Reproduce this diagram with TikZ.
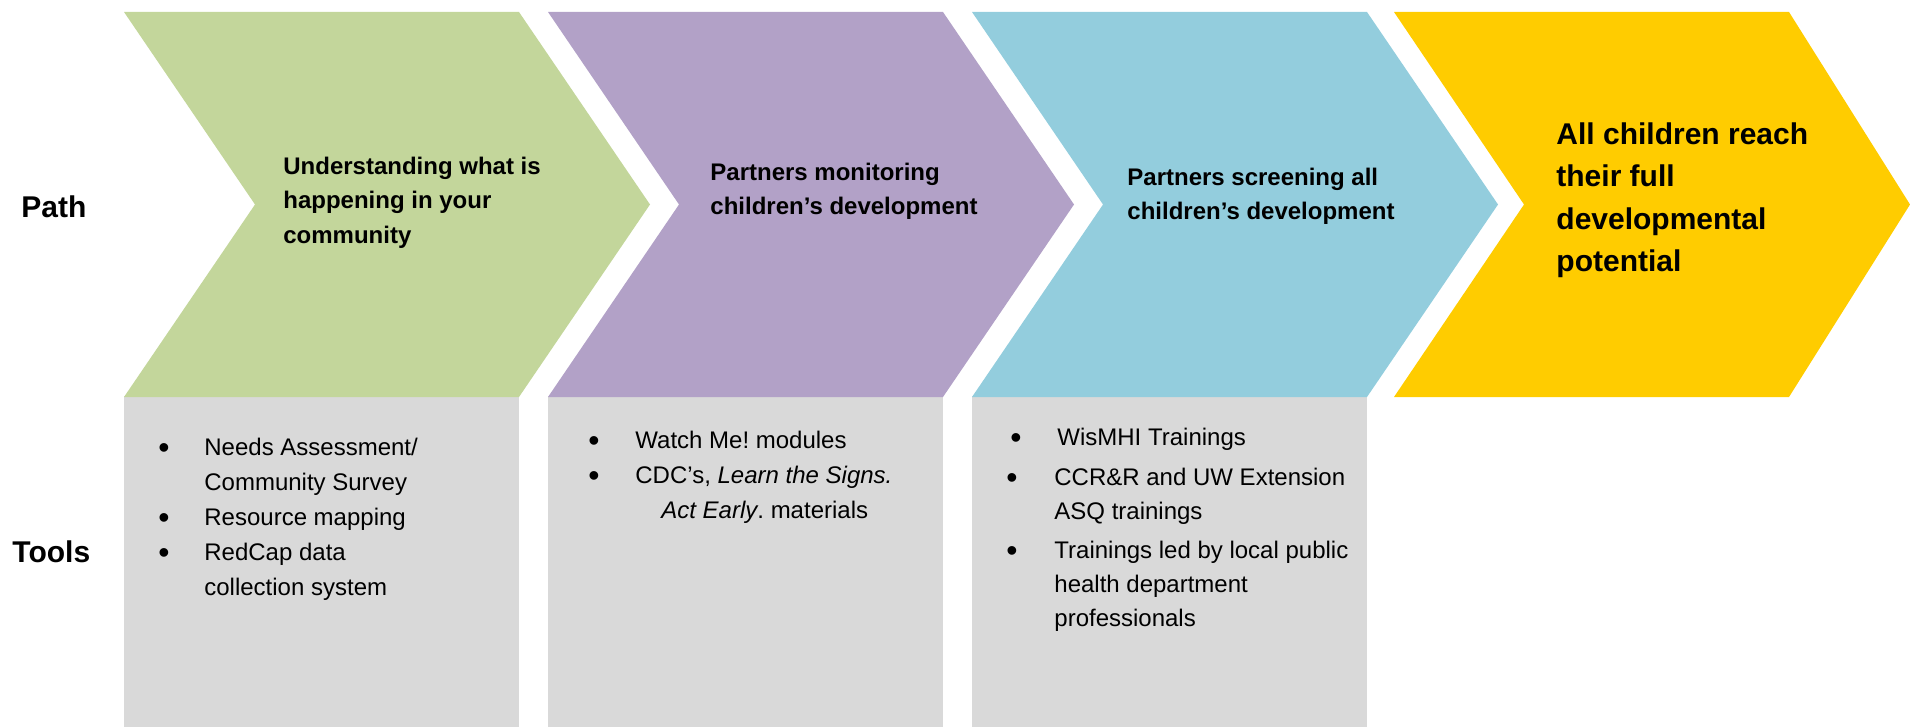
\documentclass[tikz,border=0pt]{standalone}
\usepackage{fontspec}
\setmainfont{Liberation Sans}
\frenchspacing
\definecolor{cgreen}{HTML}{C3D69B}
\definecolor{cpurple}{HTML}{B2A1C7}
\definecolor{ccyan}{HTML}{93CDDD}
\definecolor{cyellow}{HTML}{FFCC00}
\definecolor{boxgray}{HTML}{D9D9D9}
\begin{document}
\begin{tikzpicture}[x=0.5pt,y=-0.5pt,
  chev/.style={fill=#1, draw=none},
  toolbox/.style={fill=boxgray, draw=none},
  rowlabel/.style={anchor=base west, font=\fontsize{15}{18}\selectfont\bfseries, inner sep=0},
  pathtxt/.style={anchor=base west, font=\fontsize{12}{14}\selectfont\bfseries, inner sep=0},
  goaltxt/.style={anchor=base west, font=\fontsize{15}{18}\selectfont\bfseries, inner sep=0},
  tooltxt/.style={anchor=base west, font=\fontsize{12}{14}\selectfont, inner sep=0},
  bul/.style={anchor=base, font=\fontsize{16}{18}\selectfont, inner sep=0, yshift=-1.5pt}]
\useasboundingbox (0,0) rectangle (1910,727);
% gray tool boxes
\path[toolbox] (124,396) rectangle (519,727);
\path[toolbox] (548,396) rectangle (943,727);
\path[toolbox] (972,396) rectangle (1367,727);
% chevrons
\path[chev=cgreen]  (124,12) -- (519,12) -- (650,204.5) -- (519,397) -- (124,397) -- (255,204.5) -- cycle;
\path[chev=cpurple] (548,12) -- (943,12) -- (1074,204.5) -- (943,397) -- (548,397) -- (679,204.5) -- cycle;
\path[chev=ccyan]   (972,12) -- (1367,12) -- (1498,204.5) -- (1367,397) -- (972,397) -- (1103,204.5) -- cycle;
\path[chev=cyellow] (1394,12) -- (1789,12) -- (1910,204.5) -- (1789,397) -- (1394,397) -- (1524,204.5) -- cycle;
% row labels
\node[rowlabel] (path) at (21,218) {Path};
\node[rowlabel] (tools) at (12,562) {Tools};
% path texts
\node[pathtxt] (g1) at (283,175) {Understanding what is};
\node[pathtxt] (g2) at (283,209) {happening in your};
\node[pathtxt] (g3) at (283,243) {community};
\node[pathtxt] (p1) at (710,181) {Partners monitoring};
\node[pathtxt] (p2) at (710,215) {children’s development};
\node[pathtxt] (c1) at (1127,186) {Partners screening all};
\node[pathtxt] (c2) at (1127,220) {children’s development};
\node[goaltxt] (y1) at (1556,145) {All children reach};
\node[goaltxt] (y2) at (1556,187) {their full};
\node[goaltxt] (y3) at (1556,229) {developmental};
\node[goaltxt] (y4) at (1556,271) {potential};
% tools: green
\node[bul] (gb1) at (164,455) {•};
\node[tooltxt] (gt1) at (204,455) {Needs Assessment/};
\node[tooltxt] (gt2) at (204,490) {Community Survey};
\node[bul] (gb2) at (164,525) {•};
\node[tooltxt] (gt3) at (204,525) {Resource mapping};
\node[bul] (gb3) at (164,560) {•};
\node[tooltxt] (gt4) at (204,560) {RedCap data};
\node[tooltxt] (gt5) at (204,595) {collection system};
% tools: purple
\node[bul] (pb1) at (594,448) {•};
\node[tooltxt] (pt1) at (635,448) {Watch Me! modules};
\node[bul] (pb2) at (594,483) {•};
\node[tooltxt] (pt2) at (635,483) {CDC’s, \textit{Learn the Signs.}};
\node[tooltxt] (pt3) at (661,518) {\textit{Act Early}. materials};
% tools: cyan
\node[bul] (cb1) at (1016,445) {•};
\node[tooltxt] (ct1) at (1057,445) {WisMHI Trainings};
\node[bul] (cb2) at (1012,485) {•};
\node[tooltxt] (ct2) at (1054,485) {CCR\&R and UW Extension};
\node[tooltxt] (ct3) at (1054,519) {ASQ trainings};
\node[bul] (cb3) at (1012,558) {•};
\node[tooltxt] (ct4) at (1054,558) {Trainings led by local public};
\node[tooltxt] (ct5) at (1054,592) {health department};
\node[tooltxt] (ct6) at (1054,626) {professionals};
\end{tikzpicture}
\end{document}
